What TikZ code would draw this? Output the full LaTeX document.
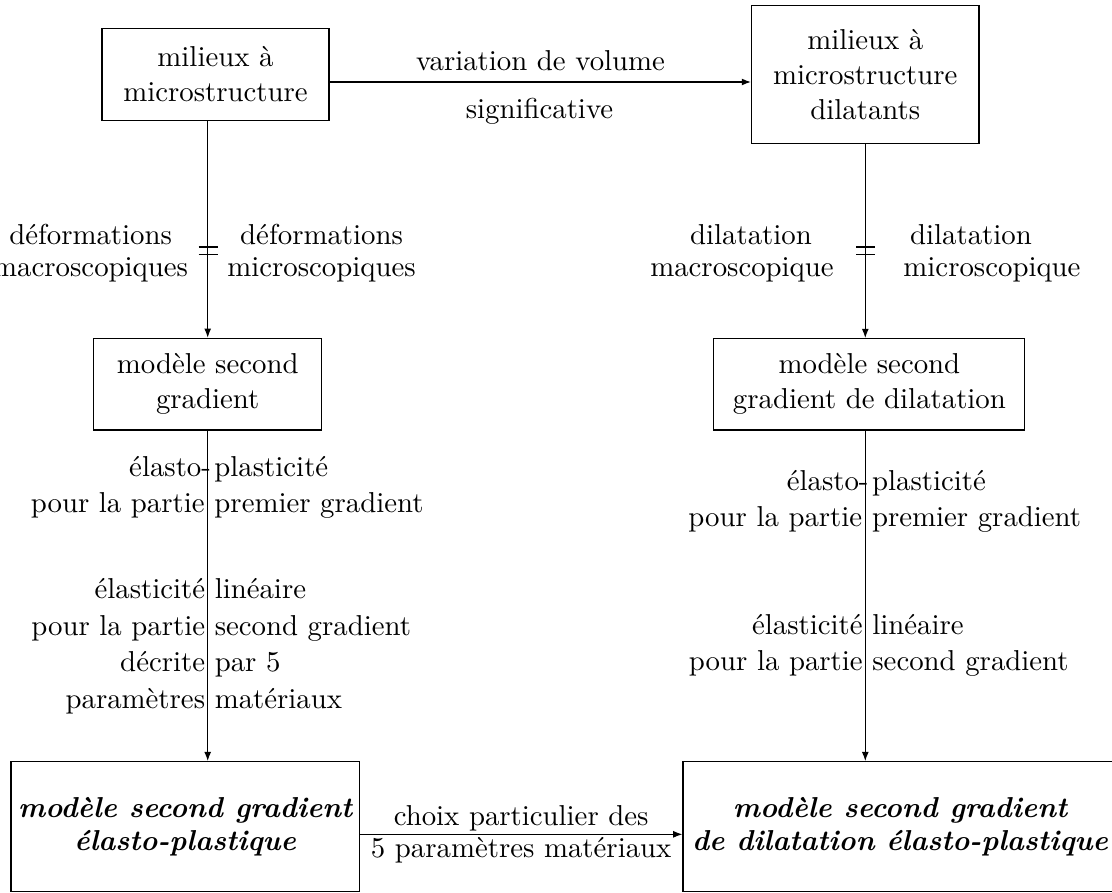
\documentclass[tikz,border=0pt]{standalone}
\usetikzlibrary{arrows.meta,calc}
\begin{document}
\begin{tikzpicture}[x=0.34722pt,y=-0.34722pt,
  box/.style={draw, line width=0.4pt, inner sep=0pt, align=center, font=\fontsize{10}{12.2}\selectfont},
  bigbox/.style={box, font=\fontsize{10}{11.2}\selectfont\bfseries\itshape},
  lbl/.style={inner sep=0pt, font=\fontsize{10}{12.7}\selectfont},
  tlbl/.style={inner sep=3.333pt, align=center, font=\fontsize{10}{11}\selectfont},
  arr/.style={-{Latex[length=3.2pt,width=2.4pt]}, line width=0.4pt},
  tickline/.style={line width=0.4pt}]
\useasboundingbox (0,0) rectangle (1112,892);

% boxes
\node[box, minimum width=78.82pt, minimum height=31.81pt] (A) at (215.5,74.5) {milieux à\\microstructure};
\node[box, minimum width=78.99pt, minimum height=47.78pt] (B) at (865.3,74.5) {milieux à\\microstructure\\dilatants};
\node[box, minimum width=79.24pt, minimum height=31.84pt] (C) at (207.7,384.2) {modèle second\\gradient};
\node[box, minimum width=107.99pt, minimum height=31.70pt] (D) at (869.4,384.3) {modèle second\\gradient de dilatation};
\node[bigbox, minimum width=120.94pt, minimum height=45.14pt] (E) at (185.2,826.7) {modèle second gradient\\élasto-plastique};
\node[bigbox, minimum width=150.69pt, minimum height=45.14pt] (F) at (900,826.7) {modèle second gradient\\de dilatation élasto-plastique};

% top arrow
\draw[arr] ([yshift=-2.6pt]A.east) -- ([yshift=-2.6pt]B.west);
\node[lbl, anchor=base] (v1) at (540.5,70) {variation de volume};
\node[lbl, anchor=base] (v2) at (539.5,118) {significative};

% vertical connectors
\draw[arr] (C.north |- A.south) -- (C.north);
\draw[arr] (C.south) -- (C.south |- E.north);
\draw[arr] (B.south) -- (B.south |- D.north);
\draw[arr] (B.south |- D.south) -- (B.south |- F.north);

% bottom arrow
\draw[arr] ([yshift=-2.64pt]E.east) -- node[lbl, align=center, font=\fontsize{10}{11.2}\selectfont] (ch) {choix particulier des\\5 paramètres matériaux} ([yshift=-2.64pt]F.west);

% ticks
\coordinate (TL) at (C.north |- 0,250.7);
\coordinate (TR) at (B.south |- 0,250.7);
\draw[tickline] ($(TL)+(-9,-3.65)$) -- ($(TL)+(10,-3.65)$);
\draw[tickline] ($(TL)+(-9,3.65)$) -- ($(TL)+(10,3.65)$);
\draw[tickline] ($(TR)+(-9,-3.65)$) -- ($(TR)+(10,-3.65)$);
\draw[tickline] ($(TR)+(-9,3.65)$) -- ($(TR)+(10,3.65)$);

\node[tlbl, anchor=east] (dL) at ($(TL)+(-9.5,2.3)$) {déformations\\macroscopiques};
\node[tlbl, anchor=west] (dR) at ($(TL)+(9.5,2.3)$) {déformations\\microscopiques};
\node[tlbl] (gL) at (742,253) {\hspace*{6.25pt}dilatation\\macroscopique};
\node[tlbl] (gR) at (992,253) {dilatation\hspace*{14.6pt}\\microscopique};

% labels along left line (base anchor = last line)
\node[lbl, align=right, anchor=base east] (l1a) at ($(C.south |- 0,512.7)+(-2.5,0)$) {élasto-\hspace*{-2.2pt}\\pour la partie};
\node[lbl, align=left, anchor=base west] (l1b) at ($(C.south |- 0,512.7)+(6.2,0)$) {plasticité\\premier gradient};
\node[lbl, align=right, anchor=base east] (l2a) at ($(C.south |- 0,708.3)+(-2,0)$) {élasticité\\pour la partie\\décrite\\paramètres};
\node[lbl, align=left, anchor=base west] (l2b) at ($(C.south |- 0,708.3)+(6.5,0)$) {linéaire\\second gradient\\par 5\\matériaux};

% labels along right line
\node[lbl, align=right, anchor=base east] (r1a) at ($(B.south |- 0,526.7)+(-2.5,0)$) {élasto-\hspace*{-2.2pt}\\pour la partie};
\node[lbl, align=left, anchor=base west] (r1b) at ($(B.south |- 0,526.7)+(6.2,0)$) {plasticité\\premier gradient};
\node[lbl, align=right, anchor=base east] (r2a) at ($(B.south |- 0,670.7)+(-2,0)$) {élasticité\\pour la partie};
\node[lbl, align=left, anchor=base west] (r2b) at ($(B.south |- 0,670.7)+(6.5,0)$) {linéaire\\second gradient};
\end{tikzpicture}
\end{document}
